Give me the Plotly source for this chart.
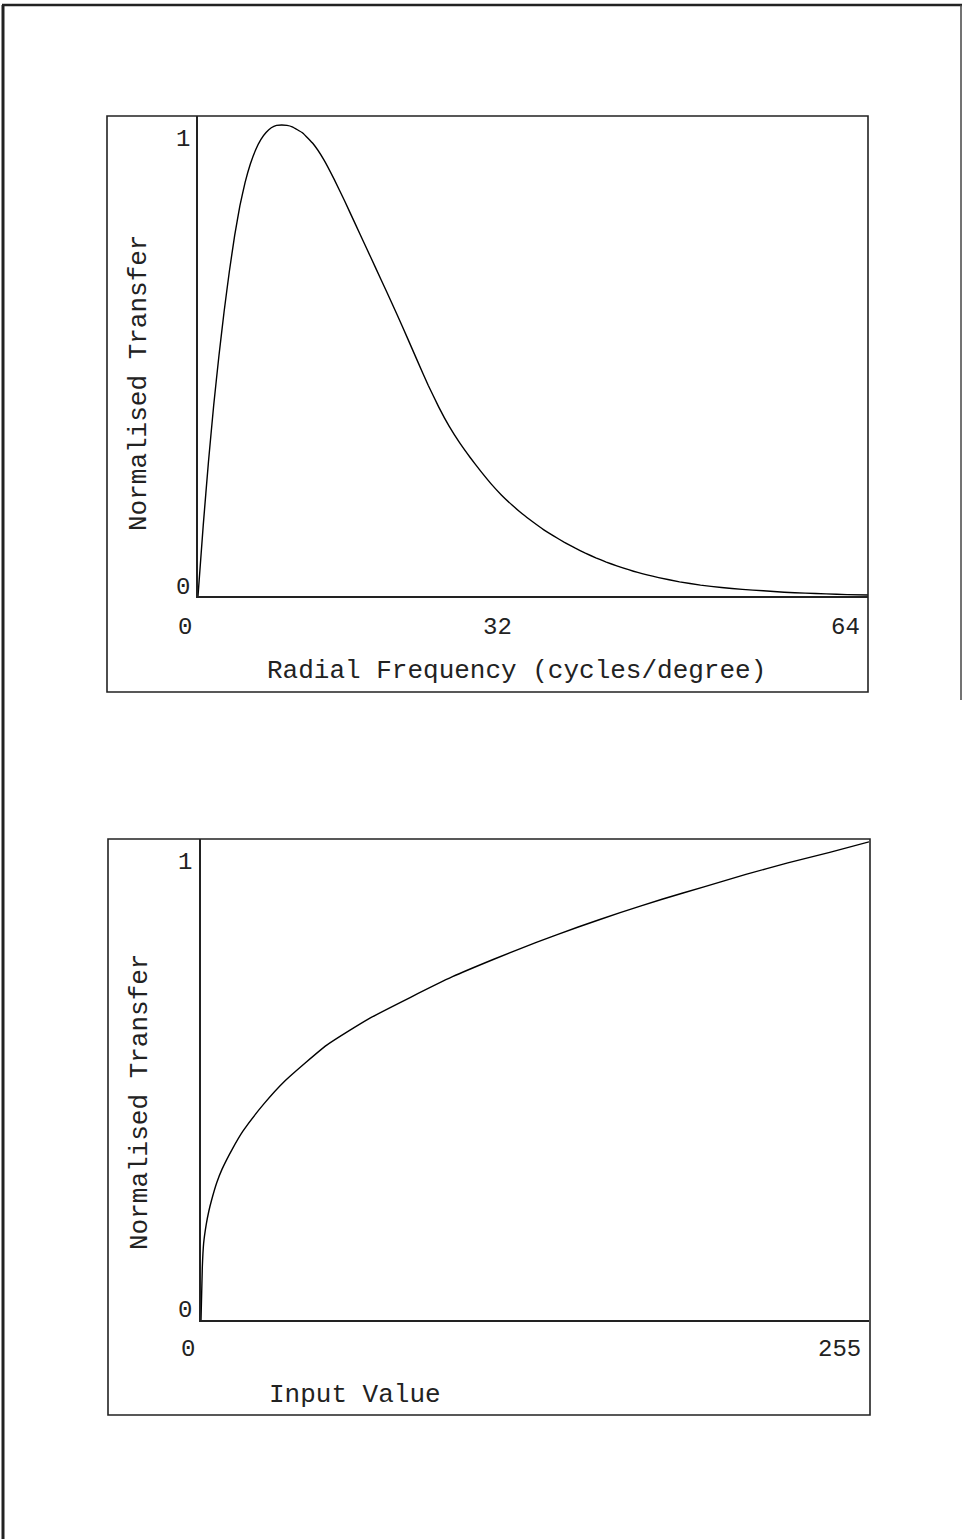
import plotly.graph_objects as go

W, H = 963, 1539

# ---- Panel 1: radial frequency transfer ----
freq = [0, 0.5, 1, 1.5, 2, 2.5, 3, 3.5, 4, 4.5, 5, 5.5, 6, 6.5, 7, 7.5, 8, 8.5, 9, 10, 11,
        12, 13, 14, 15, 16, 17, 18, 19, 20, 21, 22, 23, 24, 25, 26, 27, 28, 29, 30, 31,
        32, 33, 34, 35, 36, 37, 38, 39, 40, 42, 44, 46, 48, 50, 52, 54, 56, 58, 60, 62, 64]
transfer1 = [0, 0.15, 0.285, 0.405, 0.51, 0.605, 0.69, 0.765, 0.828, 0.878, 0.917, 0.947,
             0.969, 0.984, 0.994, 0.999, 1.0, 0.999, 0.996, 0.983, 0.96, 0.927, 0.885,
             0.839, 0.791, 0.743, 0.695, 0.647, 0.598, 0.548, 0.497, 0.447, 0.401, 0.36,
             0.325, 0.294, 0.265, 0.238, 0.214, 0.193, 0.174, 0.157, 0.141, 0.127, 0.114,
             0.102, 0.091, 0.081, 0.072, 0.064, 0.05, 0.039, 0.030, 0.023, 0.018, 0.014,
             0.011, 0.008, 0.006, 0.0045, 0.003, 0.002]
x1_ticks = [0, 32, 64]
y1_ticks = [0, 1]
x1_title = "Radial Frequency (cycles/degree)"

# ---- Panel 2: input value transfer ----
inp = [0, 0.5, 1, 2, 3, 4, 6, 8, 12, 16, 24, 32, 48, 64, 80, 96, 112, 128, 144, 160, 176,
       192, 208, 224, 240, 255]
transfer2 = [0, 0.11, 0.16, 0.20, 0.228, 0.25, 0.287, 0.315, 0.358, 0.395, 0.452, 0.50,
             0.575, 0.63, 0.675, 0.718, 0.755, 0.79, 0.822, 0.852, 0.88, 0.906, 0.932,
             0.956, 0.978, 1.0]
x2_ticks = [0, 255]
y2_ticks = [0, 1]
x2_title = "Input Value"
y_title = "Normalised Transfer"

FONT = "Liberation Mono, Courier New, monospace"
FS = 26

def px(x):
    return x / W

def py(y):
    return 1 - y / H

fig = go.Figure()
fig.add_trace(go.Scatter(x=freq, y=transfer1, mode="lines",
                         line=dict(color="black", width=1.4, shape="spline", smoothing=0.3),
                         xaxis="x", yaxis="y", showlegend=False))
fig.add_trace(go.Scatter(x=inp, y=transfer2, mode="lines",
                         line=dict(color="black", width=1.4, shape="spline", smoothing=0.5),
                         xaxis="x2", yaxis="y2", showlegend=False))

ax_common = dict(showgrid=False, zeroline=False, showticklabels=False, ticks="",
                 showline=True, linecolor="#222", linewidth=1.6, mirror=False, fixedrange=True)

fig.update_layout(
    width=W, height=H, margin=dict(l=0, r=0, t=0, b=0),
    paper_bgcolor="white", plot_bgcolor="white",
    xaxis=dict(domain=[px(198), px(868)], range=[0, 64], anchor="y", **ax_common),
    yaxis=dict(domain=[py(596), py(116)], range=[0, 1.019], anchor="x", **ax_common),
    xaxis2=dict(domain=[px(201), px(869)], range=[0, 255], anchor="y2", **ax_common),
    yaxis2=dict(domain=[py(1320), py(839)], range=[0, 1.006], anchor="x2", **ax_common),
    font=dict(family=FONT, size=FS, color="#222"),
)

shapes = []
# outer frames of each panel
for (x0, y0, x1, y1) in [(107, 116, 868, 692), (108, 839, 870, 1415)]:
    shapes.append(dict(type="rect", xref="paper", yref="paper", x0=px(x0), x1=px(x1),
                       y0=py(y1), y1=py(y0), line=dict(color="#222", width=1.6)))
# page border lines of the scan
shapes.append(dict(type="line", xref="paper", yref="paper", x0=px(2), x1=px(962), y0=py(5), y1=py(5),
                   line=dict(color="#222", width=2.5)))
shapes.append(dict(type="line", xref="paper", yref="paper", x0=px(3), x1=px(3), y0=py(5), y1=py(1539),
                   line=dict(color="#222", width=3)))
shapes.append(dict(type="line", xref="paper", yref="paper", x0=px(961), x1=px(961), y0=py(5), y1=py(700),
                   line=dict(color="#444", width=1.5)))
fig.update_layout(shapes=shapes)

ann = []
def txt(t, x, y, xanchor="center", angle=0, size=FS):
    ann.append(dict(text=t, xref="paper", yref="paper", x=px(x), y=py(y), xanchor=xanchor,
                    yanchor="middle", showarrow=False, textangle=angle,
                    font=dict(family=FONT, size=size, color="#222")))

# panel 1 tick labels
ypos1 = {0: 587, 1: 139}
for v in y1_ticks:
    txt(str(v), 192, ypos1[v], xanchor="right", size=24)
xpos1 = {0: 185, 32: 497, 64: 845}
for v in x1_ticks:
    txt(str(v), xpos1[v], 627, size=24)
txt(x1_title, 516, 671)
txt(y_title, 139, 383, angle=-90)

# panel 2 tick labels
ypos2 = {0: 1310, 1: 862}
for v in y2_ticks:
    txt(str(v), 194, ypos2[v], xanchor="right", size=24)
xpos2 = {0: 188, 255: 839}
for v in x2_ticks:
    txt(str(v), xpos2[v], 1349, size=24)
txt(x2_title, 355, 1395)
txt(y_title, 140, 1102, angle=-90)

fig.update_layout(annotations=ann)
fig.write_html("out.html", config={"displayModeBar": False},
               post_script="document.body.style.margin='0';document.body.style.overflow='hidden';")
